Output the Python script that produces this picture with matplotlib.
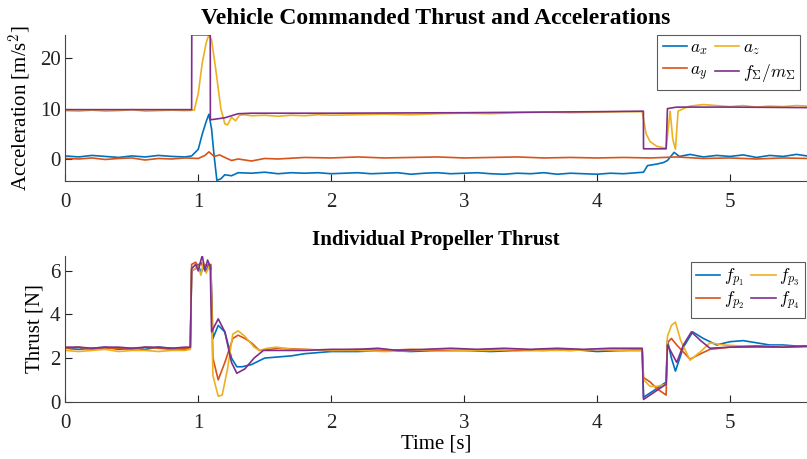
import matplotlib
matplotlib.use("Agg")
import matplotlib.pyplot as plt

plt.rcParams['font.family'] = ['Liberation Serif', 'DejaVu Serif']
plt.rcParams['mathtext.fontset'] = 'cm'

# MATLAB default colours
BLUE, RED, YELLOW, PURPLE = '#0072BD', '#D95319', '#EDB120', '#7E2F8E'

# ---- top panel: accelerations ----
t_ax = [0, 0.1, 0.2, 0.3, 0.4, 0.5, 0.6, 0.7, 0.8, 0.9, 0.95, 1.0, 1.03, 1.06, 1.08,
        1.1, 1.12, 1.14, 1.17, 1.2, 1.25, 1.3, 1.4, 1.5, 1.6, 1.7, 1.8, 1.9, 2.0,
        2.1, 2.2, 2.3, 2.4, 2.5, 2.6, 2.7, 2.8, 2.9, 3.0, 3.1, 3.2, 3.3, 3.4, 3.5,
        3.6, 3.7, 3.8, 3.9, 4.0, 4.1, 4.2, 4.3, 4.35, 4.38, 4.45, 4.5, 4.53, 4.58,
        4.62, 4.7, 4.8, 4.9, 5.0, 5.1, 5.2, 5.3, 5.4, 5.5, 5.58]
a_x = [0.7, 0.5, 0.8, 0.6, 0.4, 0.7, 0.5, 0.8, 0.6, 0.5, 0.7, 2.0, 5.0, 7.5, 8.9,
       6.0, 0.5, -4.1, -3.8, -3.0, -3.2, -2.6, -2.7, -2.5, -2.8, -2.6, -2.7, -2.6, -2.8,
       -2.7, -2.6, -2.8, -2.7, -2.6, -2.9, -2.7, -2.6, -2.8, -2.7, -2.6, -2.8, -2.9, -2.7,
       -2.8, -2.6, -2.9, -2.7, -2.8, -2.9, -2.7, -2.8, -2.6, -2.5, -1.2, -0.9, -0.6, -0.2,
       1.4, 0.6, 1.0, 0.5, 0.8, 0.6, 0.9, 0.4, 0.8, 0.6, 1.0, 0.7]

t_ay = [0, 0.1, 0.2, 0.3, 0.4, 0.5, 0.6, 0.7, 0.8, 0.9, 1.0, 1.05, 1.08, 1.12, 1.16,
        1.2, 1.25, 1.3, 1.4, 1.5, 1.6, 1.8, 2.0, 2.2, 2.4, 2.6, 2.8, 3.0, 3.2, 3.4,
        3.6, 3.8, 4.0, 4.2, 4.4, 4.6, 4.8, 5.0, 5.2, 5.4, 5.58]
a_y = [0.2, 0.1, 0.3, 0.0, 0.2, 0.3, -0.1, 0.2, 0.1, 0.3, 0.2, 0.8, 1.5, 0.6, 0.9,
       0.4, -0.2, 0.1, -0.3, 0.2, 0.1, 0.4, 0.3, 0.5, 0.3, 0.4, 0.5, 0.3, 0.4, 0.5,
       0.3, 0.4, 0.3, 0.4, 0.3, 0.5, 0.2, 0.3, 0.1, 0.3, 0.2]

t_az = [0, 0.1, 0.2, 0.3, 0.4, 0.5, 0.6, 0.7, 0.8, 0.9, 0.97, 1.0, 1.03, 1.06, 1.08,
        1.1, 1.13, 1.17, 1.2, 1.22, 1.25, 1.28, 1.31, 1.35, 1.4, 1.5, 1.6, 1.7, 1.8,
        1.9, 2.0, 2.2, 2.4, 2.6, 2.8, 3.0, 3.2, 3.4, 3.6, 3.8, 4.0, 4.2, 4.34, 4.37,
        4.4, 4.45, 4.52, 4.55, 4.57, 4.59, 4.61, 4.65, 4.7, 4.8, 4.9, 5.0, 5.1, 5.2,
        5.3, 5.4, 5.5, 5.58]
a_z = [9.6, 9.5, 9.7, 9.5, 9.6, 9.8, 9.5, 9.6, 9.7, 9.6, 9.7, 13.0, 19.0, 23.0, 24.5,
       23.5, 18.0, 10.0, 7.0, 6.8, 8.3, 7.6, 8.7, 8.8, 8.6, 8.7, 8.5, 8.7, 8.6,
       8.8, 8.7, 8.8, 8.9, 8.8, 9.0, 9.1, 9.0, 9.2, 9.3, 9.2, 9.3, 9.4, 9.4, 5.0,
       3.5, 2.6, 2.2, 9.5, 4.0, 2.0, 9.5, 10.0, 10.5, 10.8, 10.6, 10.4, 10.6, 10.3,
       10.5, 10.4, 10.6, 10.5]

t_fm = [0, 0.95, 0.951, 1.09, 1.091, 1.2, 1.3, 1.4, 2.0, 3.0, 4.0, 4.349, 4.35, 4.52,
        4.53, 4.6, 5.0, 5.58]
f_m = [9.8, 9.8, 24.5, 24.5, 7.8, 8.2, 9.0, 9.1, 9.1, 9.2, 9.4, 9.5, 2.1, 2.1,
       10.0, 10.3, 10.3, 10.2]

# ---- bottom panel: propeller thrusts ----
t_p1 = [0, 0.1, 0.2, 0.3, 0.4, 0.5, 0.6, 0.7, 0.8, 0.9, 0.94, 0.95, 0.98, 1.0, 1.02,
        1.04, 1.06, 1.08, 1.095, 1.11, 1.15, 1.2, 1.25, 1.29, 1.33, 1.4, 1.5, 1.6, 1.7,
        1.8, 1.9, 2.0, 2.2, 2.4, 2.6, 2.8, 3.0, 3.2, 3.4, 3.6, 3.8, 4.0, 4.2, 4.34,
        4.35, 4.4, 4.45, 4.52, 4.53, 4.56, 4.59, 4.65, 4.72, 4.8, 4.9, 5.0, 5.1, 5.2,
        5.3, 5.4, 5.5, 5.58]
f_p1 = [2.45, 2.4, 2.45, 2.5, 2.4, 2.45, 2.4, 2.5, 2.45, 2.4, 2.45, 6.0, 6.1, 6.3, 5.9,
        6.2, 6.0, 6.3, 6.1, 2.9, 3.5, 3.2, 2.0, 1.6, 1.6, 1.7, 2.0, 2.05, 2.1,
        2.2, 2.25, 2.3, 2.3, 2.35, 2.3, 2.35, 2.35, 2.3, 2.35, 2.35, 2.4, 2.3, 2.35, 2.35,
        0.2, 0.4, 0.6, 0.9, 2.8, 2.0, 1.4, 2.5, 3.2, 2.9, 2.6, 2.75, 2.8, 2.7,
        2.6, 2.6, 2.55, 2.55]

t_p2 = [0, 0.1, 0.2, 0.3, 0.4, 0.5, 0.6, 0.7, 0.8, 0.9, 0.94, 0.95, 0.98, 1.0, 1.02,
        1.04, 1.06, 1.08, 1.095, 1.11, 1.15, 1.2, 1.26, 1.3, 1.35, 1.4, 1.46, 1.6, 1.8,
        2.0, 2.2, 2.4, 2.6, 2.8, 3.0, 3.2, 3.4, 3.6, 3.8, 4.0, 4.2, 4.34, 4.35, 4.4,
        4.45, 4.52, 4.53, 4.56, 4.6, 4.7, 4.78, 4.85, 5.0, 5.2, 5.4, 5.58]
f_p2 = [2.45, 2.5, 2.4, 2.45, 2.45, 2.4, 2.5, 2.45, 2.4, 2.45, 2.45, 6.3, 6.4, 6.2, 6.4,
        6.1, 6.3, 6.2, 6.3, 2.0, 1.0, 1.8, 2.9, 3.05, 2.9, 2.7, 2.35, 2.45, 2.4,
        2.35, 2.4, 2.35, 2.4, 2.35, 2.35, 2.4, 2.35, 2.4, 2.35, 2.4, 2.35, 2.4, 1.1, 0.9,
        0.6, 0.3, 2.7, 2.9, 2.6, 1.95, 2.2, 2.4, 2.5, 2.5, 2.5, 2.5]

t_p3 = [0, 0.1, 0.2, 0.3, 0.4, 0.5, 0.6, 0.7, 0.8, 0.9, 0.94, 0.95, 1.0, 1.02, 1.04,
        1.06, 1.08, 1.095, 1.11, 1.15, 1.18, 1.22, 1.26, 1.3, 1.35, 1.42, 1.46, 1.52, 1.59,
        1.7, 2.0, 2.2, 2.4, 2.6, 2.8, 3.0, 3.2, 3.4, 3.6, 3.8, 4.0, 4.2, 4.34, 4.35,
        4.4, 4.45, 4.52, 4.53, 4.56, 4.59, 4.63, 4.7, 4.78, 4.85, 4.95, 5.1, 5.3, 5.58]
f_p3 = [2.35, 2.3, 2.35, 2.4, 2.3, 2.35, 2.35, 2.3, 2.35, 2.35, 2.4, 6.0, 6.2, 5.8, 6.4,
        5.9, 6.2, 6.0, 1.2, 0.25, 0.3, 1.5, 3.1, 3.25, 3.0, 2.5, 2.35, 2.45, 2.5,
        2.4, 2.35, 2.35, 2.3, 2.35, 2.4, 2.35, 2.35, 2.4, 2.35, 2.35, 2.4, 2.35, 2.35, 1.0,
        0.7, 0.7, 0.8, 3.0, 3.5, 3.65, 2.8, 1.9, 2.3, 2.7, 2.6, 2.55, 2.55, 2.5]

t_p4 = [0, 0.1, 0.2, 0.3, 0.4, 0.5, 0.6, 0.7, 0.8, 0.9, 0.94, 0.95, 0.98, 1.0, 1.02,
        1.03, 1.05, 1.07, 1.09, 1.1, 1.15, 1.2, 1.25, 1.29, 1.35, 1.42, 1.49, 1.6, 1.8,
        2.0, 2.2, 2.35, 2.5, 2.7, 2.9, 3.1, 3.3, 3.5, 3.7, 3.9, 4.1, 4.34, 4.35, 4.52,
        4.53, 4.6, 4.65, 4.71, 4.78, 4.85, 5.0, 5.2, 5.4, 5.58]
f_p4 = [2.5, 2.5, 2.45, 2.5, 2.5, 2.45, 2.5, 2.5, 2.45, 2.5, 2.5, 6.1, 6.3, 6.0, 6.5,
        6.7, 6.0, 6.5, 6.2, 3.2, 3.8, 3.2, 1.8, 1.3, 1.5, 2.0, 2.35, 2.35, 2.35,
        2.4, 2.4, 2.45, 2.35, 2.4, 2.45, 2.4, 2.45, 2.4, 2.45, 2.4, 2.45, 2.45, 0.1, 0.8,
        2.6, 1.8, 2.6, 3.2, 2.8, 2.45, 2.5, 2.55, 2.5, 2.55]


def style_axes(ax):
    ax.spines['top'].set_visible(False)
    ax.spines['right'].set_visible(False)
    for s in ('left', 'bottom'):
        ax.spines[s].set_color('#444444')
        ax.spines[s].set_linewidth(0.8)
    ax.tick_params(direction='in', labelsize=15, colors='#222222', length=5)
    ax.tick_params(axis='x', pad=9)
    ax.set_xlim(0, 5.58)
    ax.set_xticks([0, 1, 2, 3, 4, 5])


def add_legend(ax, anchor, spacing):
    leg = ax.legend(ncol=2, loc='upper right', bbox_to_anchor=anchor, fontsize=12.5,
                    frameon=True, fancybox=False, handlelength=1.4, handletextpad=0.2,
                    columnspacing=0.4, borderpad=0.3, labelspacing=spacing,
                    borderaxespad=0)
    leg.get_frame().set_edgecolor('#333333')
    leg.get_frame().set_linewidth(0.8)
    return leg


fig = plt.figure(figsize=(8.07, 4.59), dpi=100)
ax1 = fig.add_axes([0.081, 0.606, 0.919, 0.318])
ax2 = fig.add_axes([0.081, 0.125, 0.919, 0.318])

lw = 1.2
ax1.plot(t_ax, a_x, color=BLUE, lw=lw, label=r'$a_x$')
ax1.plot(t_ay, a_y, color=RED, lw=lw, label=r'$a_y$')
ax1.plot(t_az, a_z, color=YELLOW, lw=lw, label=r'$a_z$')
ax1.plot(t_fm, f_m, color=PURPLE, lw=lw, label=r'$f_\Sigma/m_\Sigma$')
style_axes(ax1)
ax1.set_ylim(-4.2, 24.5)
ax1.set_yticks([0, 10, 20])
ax1.set_ylabel(r'Acceleration [m/s$^2$]', fontsize=15)
ax1.set_title('Vehicle Commanded Thrust and Accelerations', fontsize=17,
              fontweight='bold', pad=8)
add_legend(ax1, (0.991, 1.0), 0.3)

ax2.plot(t_p1, f_p1, color=BLUE, lw=lw, label=r'$f_{p_1}$')
ax2.plot(t_p2, f_p2, color=RED, lw=lw, label=r'$f_{p_2}$')
ax2.plot(t_p3, f_p3, color=YELLOW, lw=lw, label=r'$f_{p_3}$')
ax2.plot(t_p4, f_p4, color=PURPLE, lw=lw, label=r'$f_{p_4}$')
style_axes(ax2)
ax2.set_ylim(0, 6.7)
ax2.set_yticks([0, 2, 4, 6])
ax2.set_ylabel('Thrust [N]', fontsize=15)
ax2.set_xlabel('Time [s]', fontsize=15, labelpad=1)
ax2.set_title('Individual Propeller Thrust', fontsize=15, fontweight='bold', pad=8)
add_legend(ax2, (0.997, 0.957), 0.05)

plt.savefig('out.png', dpi=100)
